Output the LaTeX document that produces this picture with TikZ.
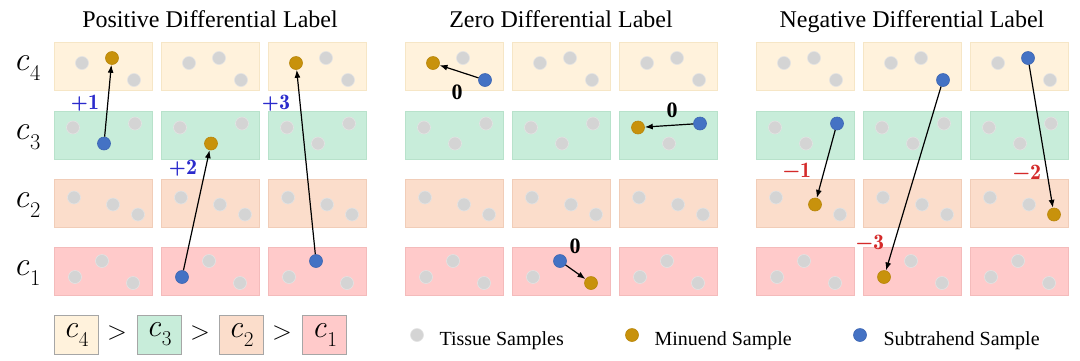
\documentclass[tikz,border=0pt]{standalone}
\usepackage{fontspec}
\setmainfont{Liberation Serif}
\usetikzlibrary{arrows.meta}
\definecolor{f4}{HTML}{FFF2DC}\definecolor{d4}{HTML}{F6E6C6}
\definecolor{f3}{HTML}{C8EDDA}\definecolor{d3}{HTML}{B8E2CB}
\definecolor{f2}{HTML}{FBDDCB}\definecolor{d2}{HTML}{F1CDB8}
\definecolor{f1}{HTML}{FFCACA}\definecolor{d1}{HTML}{F4BBBB}
\definecolor{tisc}{HTML}{D4D4D4}\definecolor{tisd}{HTML}{E3E3E3}
\definecolor{minc}{HTML}{C8920C}\definecolor{mind}{HTML}{B8860B}
\definecolor{subc}{HTML}{4472C4}\definecolor{subd}{HTML}{3D66B3}
\definecolor{posc}{HTML}{2B2BCC}\definecolor{negc}{HTML}{D42A2A}
\makeatletter
\@namedef{ry4}{42}\@namedef{ry3}{110.5}\@namedef{ry2}{178.5}\@namedef{ry1}{247}
\@namedef{xa4}{28}\@namedef{ya4}{21}\@namedef{xb4}{58}\@namedef{yb4}{16}\@namedef{xc4}{80}\@namedef{yc4}{38}
\@namedef{xa3}{19}\@namedef{ya3}{17}\@namedef{xb3}{50}\@namedef{yb3}{33}\@namedef{xc3}{81}\@namedef{yc3}{13}
\@namedef{xa2}{20}\@namedef{ya2}{19}\@namedef{xb2}{59}\@namedef{yb2}{26}\@namedef{xc2}{84}\@namedef{yc2}{36}
\@namedef{xa1}{21}\@namedef{ya1}{30}\@namedef{xb1}{48}\@namedef{yb1}{14}\@namedef{xc1}{79}\@namedef{yc1}{36}
\makeatother
\newcommand\mkcell[6]{%
  \pgfmathsetmacro\cy{\csname ry#2\endcsname}%
  \node[cellbox,fill=f#2,draw=d#2] (#3) at (#1,\cy) {};%
  \pgfmathsetmacro\px{#1+\csname xa#2\endcsname}\pgfmathsetmacro\py{\cy+\csname ya#2\endcsname}%
  \node[#4] (#3a) at (\px,\py) {};%
  \pgfmathsetmacro\px{#1+\csname xb#2\endcsname}\pgfmathsetmacro\py{\cy+\csname yb#2\endcsname}%
  \node[#5] (#3b) at (\px,\py) {};%
  \pgfmathsetmacro\px{#1+\csname xc#2\endcsname}\pgfmathsetmacro\py{\cy+\csname yc#2\endcsname}%
  \node[#6] (#3c) at (\px,\py) {};%
}
% italic c with subscript, in Latin Modern text font
\newcommand\cls[1]{{\fontfamily{lmr}\selectfont\itshape c\/}\kern0.02em\raisebox{-0.28em}{\fontfamily{lmr}\fontsize{0.66em}{0.66em}\selectfont #1}}
\newcommand\lmnum[1]{{\fontfamily{lmr}\selectfont\bfseries #1}}
\begin{document}
\begin{tikzpicture}[x=1pt,y=-1pt,
  cellbox/.style={minimum width=98pt,minimum height=48pt,inner sep=0pt,anchor=north west,line width=0.8pt},
  dot/.style={circle,minimum size=13pt,inner sep=0pt,line width=0.6pt},
  tis/.style={dot,fill=tisc,draw=tisd},
  minu/.style={dot,fill=minc,draw=mind},
  subt/.style={dot,fill=subc,draw=subd},
  arr/.style={-{Latex[length=8pt,width=6pt]},line width=1.2pt,black},
  title/.style={font=\fontsize{24}{24}\selectfont,anchor=base},
  rowlbl/.style={font=\fontsize{34}{34}\selectfont},
  poslbl/.style={font=\fontsize{22}{22}\selectfont,text=posc},
  neglbl/.style={font=\fontsize{22}{22}\selectfont,text=negc},
  zerolbl/.style={font=\fontsize{22}{22}\selectfont\bfseries,text=black},
  legbox/.style={minimum width=44pt,minimum height=39pt,inner sep=0pt,draw=black!35,line width=0.8pt,font=\fontsize{32}{32}\selectfont},
  gt/.style={font=\fontfamily{lmr}\fontsize{26}{26}\selectfont},
  legtxt/.style={font=\fontsize{20}{20}\selectfont,anchor=base west}]
\useasboundingbox (0,0) rectangle (1080,360);
% titles
\node[title] (tpos) at (210,27) {Positive Differential Label};
\node[title] (tzero) at (561,27) {Zero Differential Label};
\node[title] (tneg) at (912,27) {Negative Differential Label};
% row labels
\node[rowlbl] (r4) at (27,68) {\cls{4}};
\node[rowlbl] (r3) at (27,137) {\cls{3}};
\node[rowlbl] (r2) at (27,205) {\cls{2}};
\node[rowlbl] (r1) at (27,273) {\cls{1}};
% positive group
\mkcell{54}{4}{p41}{tis}{minu}{tis}
\mkcell{161}{4}{p42}{tis}{tis}{tis}
\mkcell{268}{4}{p43}{minu}{tis}{tis}
\mkcell{54}{3}{p31}{tis}{subt}{tis}
\mkcell{161}{3}{p32}{tis}{minu}{tis}
\mkcell{268}{3}{p33}{tis}{tis}{tis}
\mkcell{54}{2}{p21}{tis}{tis}{tis}
\mkcell{161}{2}{p22}{tis}{tis}{tis}
\mkcell{268}{2}{p23}{tis}{tis}{tis}
\mkcell{54}{1}{p11}{tis}{tis}{tis}
\mkcell{161}{1}{p12}{subt}{tis}{tis}
\mkcell{268}{1}{p13}{tis}{subt}{tis}
% zero group
\mkcell{405}{4}{z41}{minu}{tis}{subt}
\mkcell{512}{4}{z42}{tis}{tis}{tis}
\mkcell{619}{4}{z43}{tis}{tis}{tis}
\mkcell{405}{3}{z31}{tis}{tis}{tis}
\mkcell{512}{3}{z32}{tis}{tis}{tis}
\mkcell{619}{3}{z33}{minu}{tis}{subt}
\mkcell{405}{2}{z21}{tis}{tis}{tis}
\mkcell{512}{2}{z22}{tis}{tis}{tis}
\mkcell{619}{2}{z23}{tis}{tis}{tis}
\mkcell{405}{1}{z11}{tis}{tis}{tis}
\mkcell{512}{1}{z12}{tis}{subt}{minu}
\mkcell{619}{1}{z13}{tis}{tis}{tis}
% negative group
\mkcell{756}{4}{n41}{tis}{tis}{tis}
\mkcell{863}{4}{n42}{tis}{tis}{subt}
\mkcell{970}{4}{n43}{tis}{subt}{tis}
\mkcell{756}{3}{n31}{tis}{tis}{subt}
\mkcell{863}{3}{n32}{tis}{tis}{tis}
\mkcell{970}{3}{n33}{tis}{tis}{tis}
\mkcell{756}{2}{n21}{tis}{minu}{tis}
\mkcell{863}{2}{n22}{tis}{tis}{tis}
\mkcell{970}{2}{n23}{tis}{tis}{minu}
\mkcell{756}{1}{n11}{tis}{tis}{tis}
\mkcell{863}{1}{n12}{minu}{tis}{tis}
\mkcell{970}{1}{n13}{tis}{tis}{tis}
% arrows
\draw[arr] (p31b) -- (p41b);
\draw[arr] (p12a) -- (p32b);
\draw[arr] (p13b) -- (p43a);
\draw[arr] (z41c) -- (z41a);
\draw[arr] (z33c) -- (z33a);
\draw[arr] (z12b) -- (z12c);
\draw[arr] (n31c) -- (n21b);
\draw[arr] (n42c) -- (n12a);
\draw[arr] (n43b) -- (n23c);
% labels
\node[poslbl] (l1) at (85,103) {\lmnum{+1}};
\node[poslbl] (l2) at (183,168) {\lmnum{+2}};
\node[poslbl] (l3) at (276,103) {\lmnum{+3}};
\node[zerolbl] (l4) at (457,92) {0};
\node[zerolbl] (l5) at (672,110) {0};
\node[zerolbl] (l6) at (575,246) {0};
\node[neglbl] (l7) at (797,170) {\lmnum{−1}};
\node[neglbl] (l8) at (1027,172) {\lmnum{−2}};
\node[neglbl] (l9) at (870,242) {\lmnum{−3}};
% legend
\node[legbox,fill=f4] (k4) at (76,334.5) {\cls{4}};
\node[gt] (g1) at (117,333) {>};
\node[legbox,fill=f3] (k3) at (159,334.5) {\cls{3}};
\node[gt] (g2) at (200,333) {>};
\node[legbox,fill=f2] (k2) at (241,334.5) {\cls{2}};
\node[gt] (g3) at (282,333) {>};
\node[legbox,fill=f1] (k1) at (324.5,334.5) {\cls{1}};
\node[tis] (e1) at (417,335) {};
\node[legtxt] (t1) at (436,345) {Tissue Samples};
\node[minu] (e2) at (632,335) {};
\node[legtxt] (t2) at (651,345) {Minuend Sample};
\node[subt] (e3) at (860,335) {};
\node[legtxt] (t3) at (880,345) {Subtrahend Sample};
\end{tikzpicture}
\end{document}
